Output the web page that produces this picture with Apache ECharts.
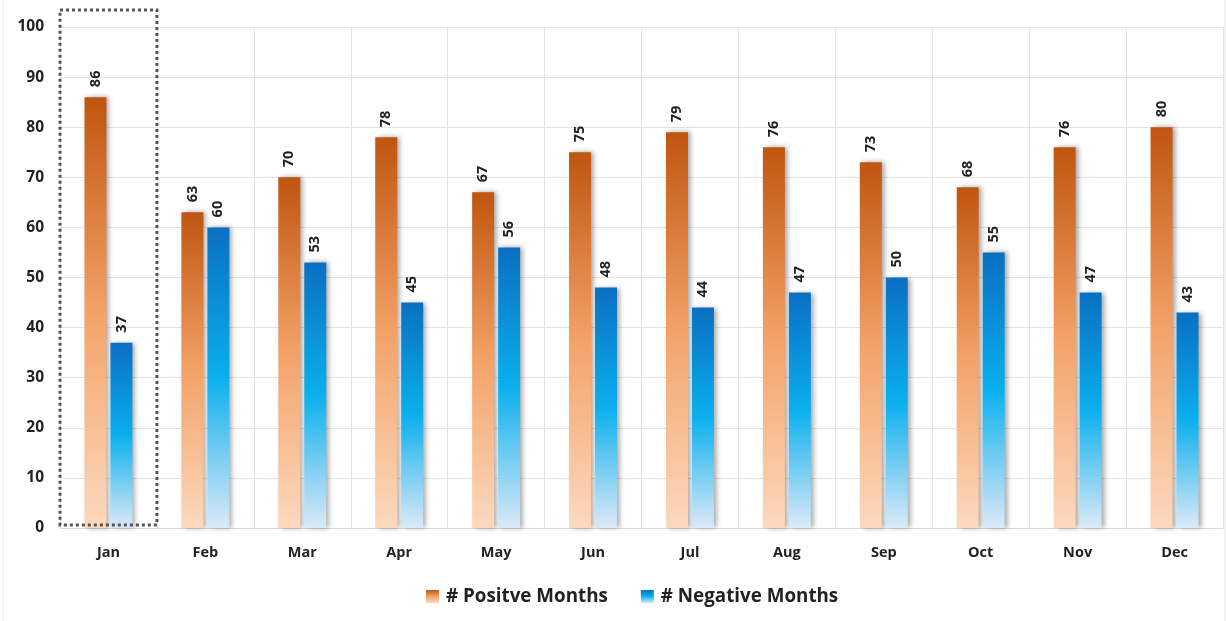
<!DOCTYPE html>
<html>
<head>
<meta charset="utf-8">
<script src="https://cdn.jsdelivr.net/npm/echarts@6/dist/echarts.min.js"></script>
<style>
html,body{margin:0;padding:0;background:#fff;}
#c{width:1226px;height:621px;}
</style>
</head>
<body>
<div id="c"></div>
<script>
const months = ['Jan','Feb','Mar','Apr','May','Jun','Jul','Aug','Sep','Oct','Nov','Dec'];
const positiveMonths = [86,63,70,78,67,75,79,76,73,68,76,80];
const negativeMonths = [37,60,53,45,56,48,44,47,50,55,47,43];
const yTicks = { min: 0, max: 100, interval: 10 };
const highlightMonth = 'Jan';

const fontFam = '"Open Sans", "DejaVu Sans", sans-serif';
const orangeGrad = new echarts.graphic.LinearGradient(0,0,0,1,[
  {offset:0,color:'#C0550F'},{offset:0.5,color:'#F3A267'},{offset:1,color:'#FCD9BE'}]);
const blueGrad = new echarts.graphic.LinearGradient(0,0,0,1,[
  {offset:0,color:'#0A6FC2'},{offset:0.5,color:'#0AB0EE'},{offset:1,color:'#DCE9F7'}]);

const labelCfg = {
  show:true, position:'top', rotate:90, align:'left', verticalAlign:'middle',
  distance:10, color:'#222', fontWeight:'bold', fontSize:14.5, fontFamily:fontFam
};
const shadow = {shadowColor:'rgba(0,0,0,0.35)', shadowBlur:5, shadowOffsetX:3, shadowOffsetY:0};

const chart = echarts.init(document.getElementById('c'));
chart.setOption({
  animation:false,
  backgroundColor:'#fff',
  grid:{left:60,right:3,top:27,bottom:93},
  legend:{
    bottom:10, left:421, itemWidth:13, itemHeight:13, itemGap:33, itemStyle:{borderWidth:0},
    icon:'rect',
    textStyle:{fontSize:18.8, fontWeight:'bold', color:'#222', fontFamily:fontFam, padding:[0,0,0,2]},
    data:['# Positve Months','# Negative Months']
  },
  xAxis:{
    type:'category', data:months,
    axisLine:{lineStyle:{color:'#d9d9d9'}},
    axisTick:{show:false},
    splitLine:{show:true, lineStyle:{color:'#e3e3e3', width:1}},
    axisLabel:{color:'#222', fontWeight:'bold', fontSize:14.5, margin:17, fontFamily:fontFam}
  },
  yAxis:{
    type:'value', min:yTicks.min, max:yTicks.max, interval:yTicks.interval,
    axisLine:{show:false}, axisTick:{show:false},
    splitLine:{lineStyle:{color:'#e3e3e3', width:1}},
    axisLabel:{color:'#222', fontWeight:'bold', fontSize:15.5, margin:16, fontFamily:fontFam}
  },
  series:[
    {name:'# Positve Months', type:'bar', data:positiveMonths, barWidth:22, barGap:'18%',
     itemStyle:Object.assign({color:orangeGrad}, shadow), label:labelCfg},
    {name:'# Negative Months', type:'bar', data:negativeMonths, barWidth:22,
     itemStyle:Object.assign({color:blueGrad}, shadow), label:labelCfg}
  ]
});

// Dotted highlight box around the highlighted month's band
const idx = months.indexOf(highlightMonth);
const c0 = chart.convertToPixel({xAxisIndex:0}, months[idx]);
const c1 = chart.convertToPixel({xAxisIndex:0}, months[idx+1]);
const band = c1 - c0;
const yTop = chart.convertToPixel({yAxisIndex:0}, 103.4);
const yBot = chart.convertToPixel({yAxisIndex:0}, 0.6);
chart.setOption({
  graphic:[{
    type:'rect', z:100,
    shape:{x:c0 - band/2, y:yTop, width:band, height:yBot - yTop},
    style:{fill:null, stroke:'#555', lineWidth:3, lineDash:[3,3]}
  },{
    type:'rect', z:-1,
    shape:{x:3, y:-2, width:1222, height:624},
    style:{fill:null, stroke:'#e6e6e6', lineWidth:1}
  }]
});
</script>
</body>
</html>
